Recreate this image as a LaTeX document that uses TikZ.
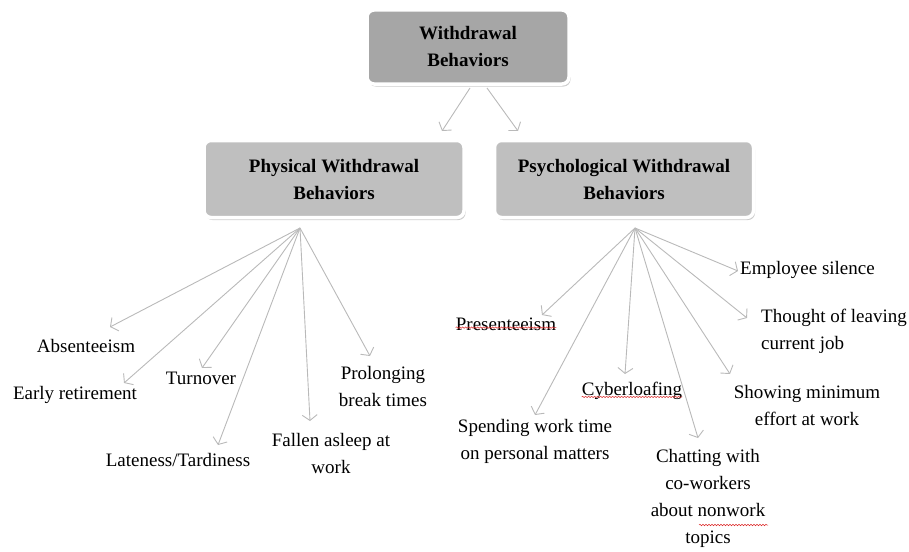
\documentclass[tikz,border=0pt]{standalone}
\usepackage{fontspec}
\setmainfont{Liberation Serif}
\usetikzlibrary{arrows.meta,shadows,decorations.pathmorphing}
\definecolor{arrowgray}{RGB}{185,185,185}
\definecolor{topgray}{RGB}{166,166,166}
\definecolor{subgray}{RGB}{191,191,191}
\definecolor{spellred}{RGB}{220,40,40}
\tikzset{
  boxstyle/.style={rounded corners=7pt, draw=white, line width=3.5pt, align=center,
    font=\fontsize{19}{27}\selectfont\bfseries, inner sep=0pt,
    drop shadow={opacity=0.4, shadow xshift=1.5pt, shadow yshift=-2.5pt}},
  leaf/.style={font=\fontsize{19}{27}\selectfont, inner sep=0pt, align=center},
  conn/.style={draw=arrowgray, line width=0.9pt, -{Straight Barb[length=5.5pt,width=15pt]}},
  spell/.style={draw=spellred, line width=0.5pt, decorate, decoration={snake, amplitude=0.7pt, segment length=3pt}}
}
\begin{document}
\begin{tikzpicture}[x=1pt,y=-1pt]
\useasboundingbox (0,0) rectangle (909,551);
% boxes
\node[boxstyle, fill=topgray, minimum width=202pt, minimum height=74pt] (top) at (468,47) {Withdrawal\\Behaviors};
\node[boxstyle, fill=subgray, minimum width=260pt, minimum height=77pt] (phys) at (334,179) {Physical Withdrawal\\Behaviors};
\node[boxstyle, fill=subgray, minimum width=259pt, minimum height=77pt] (psy) at (624,179) {Psychological Withdrawal\\Behaviors};
% top arrows
\coordinate (t1) at (470,88);
\coordinate (t2) at (487,88);
\coordinate (pe) at (442,131);
\coordinate (se) at (518,131);
\draw[conn] (t1) -- (pe);
\draw[conn] (t2) -- (se);
% physical leaves
\coordinate (po) at (300,228);
\node[leaf] (abs) at (86,346) {Absenteeism};
\node[leaf] (early) at (75,395) {Early retirement};
\node[leaf] (turn) at (201,378) {Turnover};
\node[leaf] (late) at (178,460) {Lateness/Tardiness};
\node[leaf] (prol) at (383,386) {Prolonging\\break times};
\node[leaf] (fall) at (331,453) {Fallen asleep at\\work};
\coordinate (eabs) at (110,327);
\coordinate (eearly) at (124,383);
\coordinate (eturn) at (202,368);
\coordinate (elate) at (218,445);
\coordinate (efall) at (310,421);
\coordinate (eprol) at (370,356);
\foreach \e in {eabs,eearly,eturn,elate,efall,eprol} \draw[conn] (po) -- (\e);
% psychological leaves
\coordinate (so) at (635,228);
\node[leaf] (pres) at (506,324) {Presenteeism};
\node[leaf] (spend) at (535,441) {Spending work time\\on personal matters};
\node[leaf] (cyber) at (632,391) {Cyberloafing};
\node[leaf] (chat) at (708,498) {Chatting with\\co-workers\\about nonwork\\topics};
\node[leaf] (show) at (807,405) {Showing minimum\\effort at work};
\node[leaf, align=left, anchor=west] (thought) at (761,331) {Thought of leaving\\current job};
\node[leaf, anchor=west] (silence) at (740,270) {Employee silence};
\coordinate (epres) at (542,315);
\coordinate (espend) at (535,415);
\coordinate (ecyber) at (625,374);
\coordinate (echat) at (698,438);
\coordinate (eshow) at (730,374);
\coordinate (ethought) at (747,318);
\coordinate (esilence) at (738,271);
\foreach \e in {epres,espend,ecyber,echat,eshow,ethought,esilence} \draw[conn] (so) -- (\e);
% spell-check underlines
\draw[spell] ([yshift=3pt]pres.south west) -- ([yshift=3pt]pres.south east);
\draw[spell] ([yshift=3pt]cyber.south west) -- ([yshift=3pt]cyber.south east);
\draw[spell] (699,525) -- (768,525);
\end{tikzpicture}
\end{document}
